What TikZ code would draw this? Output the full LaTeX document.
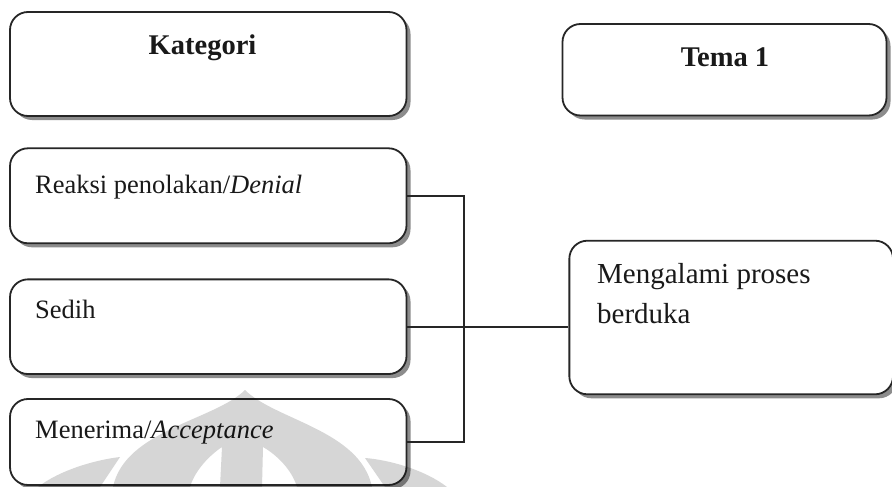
\documentclass[tikz,border=0pt]{standalone}
\usepackage{fontspec}
\setmainfont{Liberation Serif}
\usetikzlibrary{calc, shadows, positioning}

\begin{document}
\begin{tikzpicture}[x=1pt, y=-1pt,
    kotak/.style={draw=black!85, line width=1.8pt, rounded corners=18pt, fill=white,
        drop shadow={shadow xshift=4pt, shadow yshift=-4pt, fill=black!45, opacity=1}},
    isi/.style={anchor=base west, inner sep=0pt, text=black!90, font=\fontsize{26.5}{40}\selectfont},
    judul/.style={anchor=base, inner sep=0pt, text=black!90, font=\fontsize{28.5}{40}\selectfont\bfseries},
    garis/.style={draw=black!85, line width=1.6pt}]
    \path[use as bounding box, fill=white] (0,0) rectangle (892,487);

    % kolom kiri: kategori
    \node[kotak, minimum width=396.5pt, minimum height=104pt] (kategori) at (208.25,64) {};
    \node[kotak, minimum width=396.5pt, minimum height=95pt] (reaksi) at (208.25,195.8) {};
    \node[kotak, minimum width=396.5pt, minimum height=94.7pt] (sedih) at (208.25,326.7) {};
    \node[kotak, minimum width=396.5pt, minimum height=86pt] (menerima) at (208.25,442) {};

    % kolom kanan: tema
    \node[kotak, minimum width=324pt, minimum height=91.5pt] (tema) at (724.5,69.75) {};
    \node[kotak, minimum width=323.7pt, minimum height=153.6pt] (berduka) at (731.2,317.5) {};

    \node[judul] (kategori-t) at (202.5,55) {Kategori};
    \node[judul] (tema-t) at (725,66.7) {Tema 1};
    \node[isi] (reaksi-t) at (35,193) {Reaksi penolakan/\textit{Denial}};
    \node[isi] (sedih-t) at (35,318) {Sedih};
    \node[isi] (menerima-t) at (35,438) {Menerima/\textit{Acceptance}};
    \node[isi, align=left, font=\fontsize{29}{40}\selectfont] (berduka-t) at (597,323) {Mengalami proses\\berduka};

    % penghubung
    \coordinate (simpul) at (464,0);
    \draw[garis] (reaksi.east) -- (reaksi.east -| simpul) -- (menerima.east -| simpul) -- (menerima.east);
    \draw[garis] (sedih.east) -- (sedih.east -| berduka.west);

    % tanda air
    \begin{scope}[blend mode=multiply, fill=black!16]
        \fill[even odd rule] (113,487) .. controls (125,430) and (215,420) .. (245,390)
            .. controls (275,420) and (360,430) .. (372,487) -- cycle
            (190,487) .. controls (195,470) and (210,455) .. (222,447) -- (220,487) -- cycle
            (297,487) .. controls (292,470) and (277,455) .. (263,447) -- (262,487) -- cycle;
        \fill (38,487) .. controls (60,470) and (95,460) .. (120,457) -- (100,487) -- cycle;
        \fill (447,487) .. controls (425,470) and (390,460) .. (365,458) -- (385,487) -- cycle;
    \end{scope}
\end{tikzpicture}
\end{document}
